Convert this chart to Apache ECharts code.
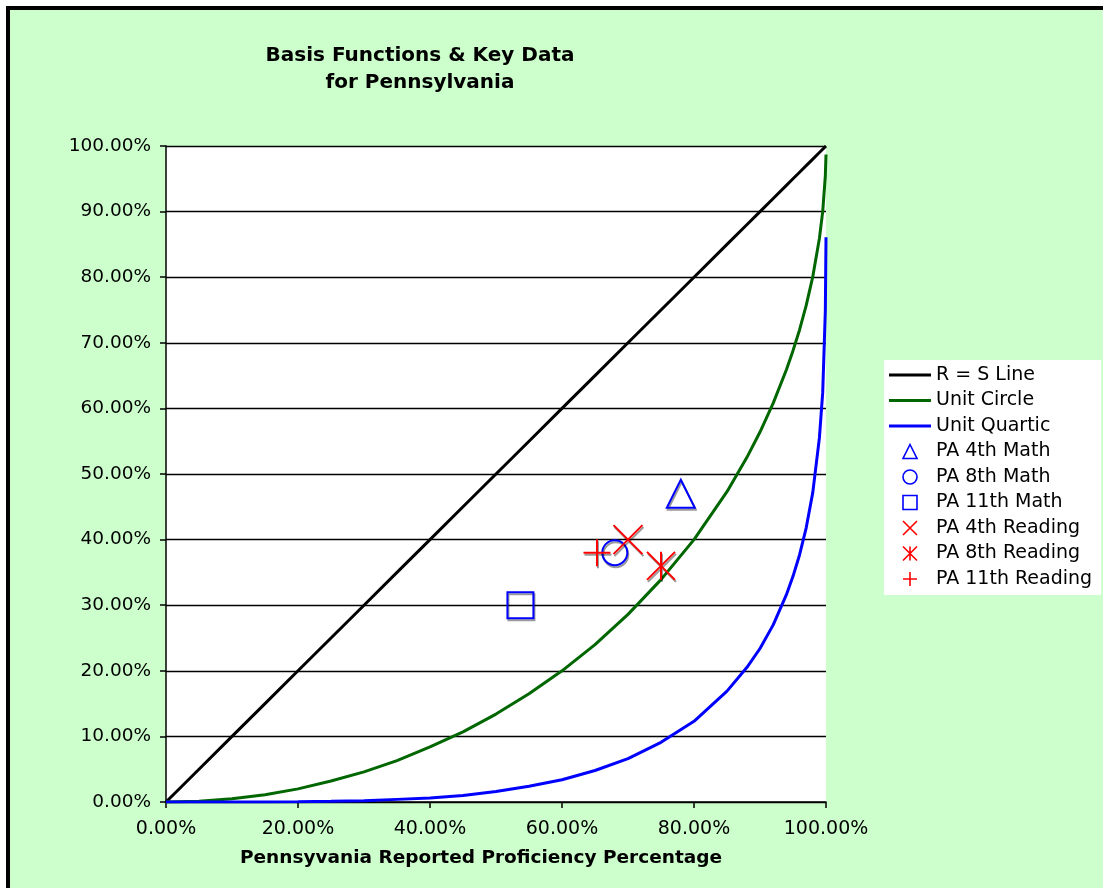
<!DOCTYPE html>
<html>
<head>
<meta charset="utf-8">
<title>Basis Functions & Key Data for Pennsylvania</title>
<script src="https://cdn.jsdelivr.net/npm/echarts@6/dist/echarts.min.js"></script>
<style>
  html, body { margin: 0; padding: 0; background: #ffffff; }
  #frame {
    position: absolute; left: 6px; top: 6px;
    width: 1200px; height: 1000px;
    border: 4px solid #000; background: #ccffcc;
  }
  #chart { position: absolute; left: 0; top: 0; width: 1103px; height: 888px; }
</style>
</head>
<body>
<div id="frame"></div>
<div id="chart"></div>
<script>
// Reported proficiency (x) and the three basis curves
const lineX = [0, 0.05, 0.10, 0.15, 0.20, 0.25, 0.30, 0.35, 0.40, 0.45, 0.50, 0.55, 0.60,
  0.65, 0.70, 0.75, 0.80, 0.85, 0.88, 0.90, 0.92, 0.94, 0.95, 0.96, 0.97, 0.98, 0.99,
  0.995, 0.999, 1.0];
const rsLine = [0, 0.05, 0.10, 0.15, 0.20, 0.25, 0.30, 0.35, 0.40, 0.45, 0.50, 0.55, 0.60,
  0.65, 0.70, 0.75, 0.80, 0.85, 0.88, 0.90, 0.92, 0.94, 0.95, 0.96, 0.97, 0.98, 0.99,
  0.995, 0.999, 1.0];
const unitCircle = [0, 0.001, 0.005, 0.011, 0.020, 0.032, 0.046, 0.063, 0.084, 0.107, 0.134,
  0.165, 0.200, 0.240, 0.286, 0.339, 0.400, 0.473, 0.525, 0.564, 0.608, 0.659, 0.688, 0.720,
  0.757, 0.801, 0.859, 0.900, 0.955, 0.987];
const unitQuartic = [0, 0, 0, 0.0001, 0.0004, 0.001, 0.002, 0.004, 0.006, 0.010, 0.016,
  0.024, 0.034, 0.048, 0.066, 0.091, 0.123, 0.169, 0.205, 0.234, 0.270, 0.316, 0.344, 0.377,
  0.418, 0.472, 0.555, 0.624, 0.749, 0.861];

// Pennsylvania key data points [x, y]
const pa4Math = [0.78, 0.47];
const pa8Math = [0.68, 0.38];
const pa11Math = [0.537, 0.30];
const pa4Reading = [0.70, 0.40];
const pa8Reading = [0.75, 0.36];
const pa11Reading = [0.653, 0.38];

const FONT = 'DejaVu Sans';
const pct = v => (v * 100).toFixed(2) + '%';
const pairs = ys => lineX.map((x, i) => [x, ys[i]]);

// Marker outlines (stroked only)
const trianglePath = 'path://M10,0L20,20L0,20Z';
const circlePath = 'path://M0,10A10,10,0,1,1,20,10A10,10,0,1,1,0,10Z';
const squarePath = 'path://M0,0L20,0L20,20L0,20Z';
const crossPath = 'path://M0,0L20,20M20,0L0,20';
const starPath = 'path://M0,0L20,20M20,0L0,20M10,0L10,20';
const plusPath = 'path://M0,10L20,10M10,0L10,20';
const legendLine = 'path://M0,0L42,0L42,3L0,3Z';

const BLACK = '#000000';
const GREEN = '#006600';
const BLUE = '#0000ff';
const RED = '#ff0000';
const shadow = { shadowColor: 'rgba(0,0,0,0.4)', shadowOffsetX: 1, shadowOffsetY: 2, shadowBlur: 0 };

function markerSeries(name, point, symbol, size, color) {
  return {
    name, type: 'scatter', data: [point], symbol, symbolSize: size,
    itemStyle: Object.assign({ color: 'transparent', borderColor: color, borderWidth: 2, opacity: 1 }, shadow),
    z: 5
  };
}
function lineSeries(name, ys, color) {
  return {
    name, type: 'line', data: pairs(ys), symbol: 'none', color,
    lineStyle: { color, width: 3 }, z: 3
  };
}
const outline = color => ({ color: 'transparent', borderColor: color, borderWidth: 1.6, opacity: 1 });

const chart = echarts.init(document.getElementById('chart'), null, { renderer: 'canvas' });
chart.setOption({
  backgroundColor: 'transparent',
  animation: false,
  title: {
    text: 'Basis Functions & Key Data\nfor Pennsylvania',
    left: 415, top: 37, textAlign: 'center',
    textStyle: { fontFamily: FONT, fontSize: 20, fontWeight: 'bold', color: '#000', lineHeight: 27 }
  },
  grid: { left: 166, top: 146, right: 277, bottom: 86, show: true, backgroundColor: '#ffffff', borderWidth: 0 },
  xAxis: {
    type: 'value', min: 0, max: 1, interval: 0.2,
    axisLine: { show: true, lineStyle: { color: '#000', width: 1.5 } },
    axisTick: { show: true, length: 6, lineStyle: { color: '#000', width: 1.5 } },
    axisLabel: { formatter: pct, color: '#000', fontFamily: FONT, fontSize: 19, margin: 18 },
    splitLine: { show: false }
  },
  yAxis: {
    type: 'value', min: 0, max: 1, interval: 0.1,
    axisLine: { show: true, lineStyle: { color: '#000', width: 1.5 } },
    axisTick: { show: true, length: 6, lineStyle: { color: '#000', width: 1.5 } },
    axisLabel: { formatter: pct, color: '#000', fontFamily: FONT, fontSize: 18.5, margin: 15 },
    splitLine: { show: true, lineStyle: { color: '#000', width: 1.3 } }
  },
  legend: {
    orient: 'vertical', left: 884, top: 360,
    backgroundColor: '#ffffff', padding: [5, 9, 6, 5],
    itemWidth: 42, itemHeight: 14, itemGap: 5.5, symbolKeepAspect: true,
    textStyle: { fontFamily: FONT, fontSize: 19, color: '#000', lineHeight: 20 },
    data: [
      { name: 'R = S Line', icon: legendLine, itemStyle: { color: BLACK, borderWidth: 0 } },
      { name: 'Unit Circle', icon: legendLine, itemStyle: { color: GREEN, borderWidth: 0 } },
      { name: 'Unit Quartic', icon: legendLine, itemStyle: { color: BLUE, borderWidth: 0 } },
      { name: 'PA 4th Math', icon: trianglePath, itemStyle: outline(BLUE) },
      { name: 'PA 8th Math', icon: circlePath, itemStyle: outline(BLUE) },
      { name: 'PA 11th Math', icon: squarePath, itemStyle: outline(BLUE) },
      { name: 'PA 4th Reading', icon: crossPath, itemStyle: outline(RED) },
      { name: 'PA 8th Reading', icon: starPath, itemStyle: outline(RED) },
      { name: 'PA 11th Reading', icon: plusPath, itemStyle: outline(RED) }
    ]
  },
  graphic: [{
    type: 'text', x: 481, y: 858,
    style: {
      text: 'Pennsyvania Reported Proficiency Percentage',
      font: 'bold 18.5px "DejaVu Sans"', fill: '#000',
      textAlign: 'center', textVerticalAlign: 'middle'
    }
  }],
  series: [
    lineSeries('R = S Line', rsLine, BLACK),
    lineSeries('Unit Circle', unitCircle, GREEN),
    lineSeries('Unit Quartic', unitQuartic, BLUE),
    markerSeries('PA 4th Math', pa4Math, trianglePath, 28, BLUE),
    markerSeries('PA 8th Math', pa8Math, circlePath, 25, BLUE),
    markerSeries('PA 11th Math', pa11Math, squarePath, 26, BLUE),
    markerSeries('PA 4th Reading', pa4Reading, crossPath, 29, RED),
    markerSeries('PA 8th Reading', pa8Reading, starPath, 28, RED),
    markerSeries('PA 11th Reading', pa11Reading, plusPath, 27, RED)
  ]
});
</script>
</body>
</html>
